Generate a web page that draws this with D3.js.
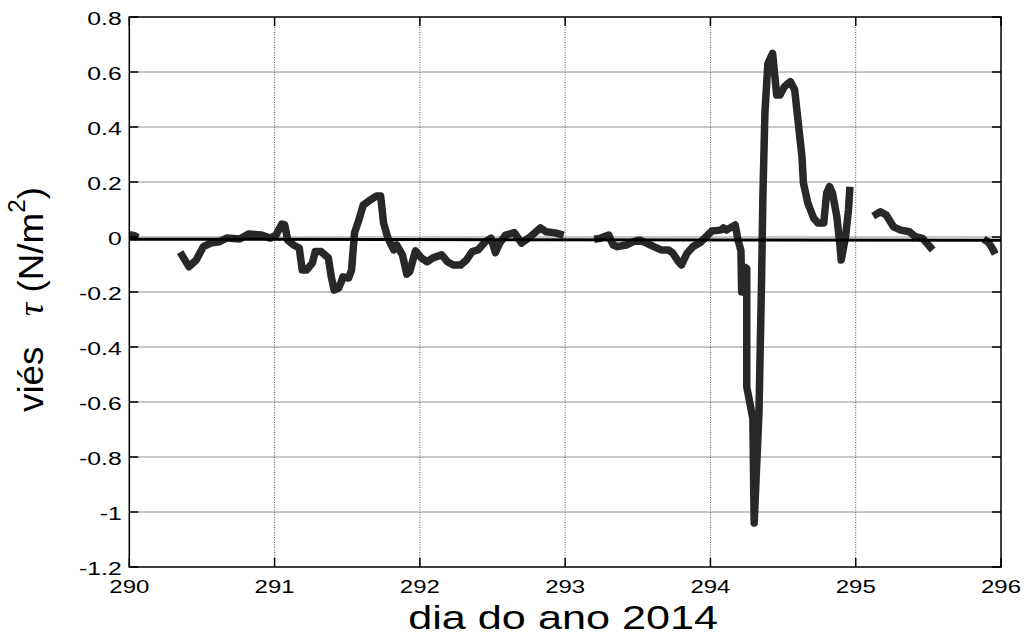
<!DOCTYPE html>
<html>
<head>
<meta charset="utf-8">
<script src="https://cdn.jsdelivr.net/npm/d3@7"></script>
<style>
  body { margin: 0; background: #fff; }
  svg { display: block; }
</style>
</head>
<body>
<svg id="chart" width="1026" height="637"></svg>
<script>
// Axis ticks and labels
const xTicks = [290, 291, 292, 293, 294, 295, 296];
const xTickLabels = ["290", "291", "292", "293", "294", "295", "296"];
const yTicks = [0.8, 0.6, 0.4, 0.2, 0, -0.2, -0.4, -0.6, -0.8, -1, -1.2];
const yTickLabels = ["0.8", "0.6", "0.4", "0.2", "0", "-0.2", "-0.4", "-0.6", "-0.8", "-1", "-1.2"];

// Wind stress bias time series (day of year 2014, N/m^2); null marks data gaps
const days = [
  290.00, 290.03, 290.06, 290.20,
  290.35, 290.41, 290.46, 290.51, 290.56, 290.62, 290.67, 290.76, 290.82, 290.91,
  290.97, 291.01, 291.05, 291.07, 291.09, 291.13, 291.17, 291.19, 291.22, 291.26,
  291.28, 291.32, 291.37, 291.39, 291.41, 291.44, 291.46, 291.47, 291.51, 291.53,
  291.55, 291.58, 291.61, 291.66, 291.70, 291.73, 291.75, 291.78, 291.82, 291.84,
  291.88, 291.91, 291.93, 291.97, 292.01, 292.05, 292.09, 292.15, 292.19, 292.23,
  292.28, 292.32, 292.36, 292.40, 292.45, 292.49, 292.52, 292.55, 292.59, 292.65,
  292.70, 292.76, 292.83, 292.87, 292.93, 292.99, 293.10,
  293.20, 293.24, 293.30, 293.33, 293.36, 293.42, 293.47, 293.51, 293.56, 293.61,
  293.66, 293.71, 293.74, 293.78, 293.80, 293.84, 293.88, 293.93, 293.97, 294.01,
  294.07, 294.09, 294.11, 294.17, 294.19, 294.21, 294.215, 294.237, 294.25, 294.25,
  294.292, 294.301, 294.334, 294.352, 294.361, 294.375, 294.395, 294.428, 294.456, 294.478,
  294.51, 294.55, 294.58, 294.60, 294.63, 294.64, 294.67, 294.71, 294.74, 294.78,
  294.80, 294.82, 294.84, 294.87, 294.89, 294.90, 294.93, 294.95, 294.96, 295.05,
  295.12, 295.17, 295.21, 295.26, 295.31, 295.37, 295.41, 295.46, 295.49, 295.53, 295.70,
  295.88, 295.91, 295.94, 295.96
];
const bias = [
  0.008, 0.006, -0.002, null,
  -0.055, -0.108, -0.084, -0.035, -0.022, -0.017, -0.004, -0.007, 0.011, 0.007,
  -0.004, 0.007, 0.047, 0.044, -0.011, -0.029, -0.040, -0.120, -0.120, -0.095,
  -0.053, -0.053, -0.076, -0.144, -0.193, -0.186, -0.162, -0.145, -0.149, -0.120,
  0.015, 0.062, 0.116, 0.135, 0.149, 0.149, 0.051, -0.004, -0.047, -0.029,
  -0.065, -0.135, -0.126, -0.050, -0.076, -0.090, -0.076, -0.065, -0.090, -0.102,
  -0.102, -0.084, -0.053, -0.047, -0.017, -0.004, -0.057, -0.022, 0.007, 0.016,
  -0.022, 0.001, 0.033, 0.019, 0.015, 0.007, null,
  -0.008, -0.005, 0.007, -0.029, -0.035, -0.029, -0.017, -0.011, -0.022, -0.035,
  -0.047, -0.047, -0.058, -0.090, -0.102, -0.058, -0.035, -0.020, 0.001, 0.022,
  0.025, 0.033, 0.025, 0.044, -0.011, -0.050, -0.200, -0.110, -0.115, -0.545,
  -0.660, -1.040, -0.640, -0.156, 0.147, 0.450, 0.630, 0.668, 0.516, 0.516,
  0.547, 0.565, 0.535, 0.437, 0.292, 0.196, 0.124, 0.069, 0.051, 0.051,
  0.160, 0.183, 0.160, 0.074, -0.022, -0.084, 0.001, 0.098, 0.183, null,
  0.076, 0.092, 0.080, 0.037, 0.025, 0.019, 0.001, -0.005, -0.023, -0.047, null,
  -0.008, -0.017, -0.041, -0.062
];

// Mean bias reference line
const meanDays = [290, 296];
const meanBias = [-0.008, -0.012];

const W = 1026, H = 637;
const margin = { left: 129.3, right: 25, top: 17, bottom: 70 };
const plotW = W - margin.left - margin.right;
const plotH = H - margin.top - margin.bottom;

const svg = d3.select("#chart");
const sans = "'Liberation Sans', Arial, sans-serif";

const x = d3.scaleLinear().domain([290, 296]).range([margin.left, margin.left + plotW]);
const y = d3.scaleLinear().domain([-1.2, 0.8]).range([margin.top + plotH, margin.top]);

// Grid lines
const grid = svg.append("g");
grid.selectAll("line.h").data(yTicks.slice(1, -1)).join("line")
  .attr("x1", x(290)).attr("x2", x(296))
  .attr("y1", d => y(d)).attr("y2", d => y(d))
  .attr("stroke", "#b4b4b4").attr("stroke-width", 1.3);
grid.selectAll("line.v").data(xTicks.slice(1, -1)).join("line")
  .attr("x1", d => x(d)).attr("x2", d => x(d))
  .attr("y1", y(0.8)).attr("y2", y(-1.2))
  .attr("stroke", "#555").attr("stroke-width", 1)
  .attr("stroke-dasharray", "1,1.5");

// Clip for data
svg.append("clipPath").attr("id", "plotClip").append("rect")
  .attr("x", margin.left).attr("y", margin.top).attr("width", plotW).attr("height", plotH);

const series = days.map((d, i) => ({ day: d, v: bias[i] }));
const line = d3.line()
  .defined(d => d.v !== null)
  .x(d => x(d.day)).y(d => y(d.v));

svg.append("path")
  .attr("clip-path", "url(#plotClip)")
  .attr("d", line(series))
  .attr("fill", "none")
  .attr("stroke", "#282828")
  .attr("stroke-width", 7.5)
  .attr("stroke-linejoin", "round")
  .attr("stroke-linecap", "butt");

const meanSeries = meanDays.map((d, i) => ({ day: d, v: meanBias[i] }));
svg.append("path")
  .attr("d", line(meanSeries))
  .attr("fill", "none")
  .attr("stroke", "#000")
  .attr("stroke-width", 3);

// Axes box and inward ticks on all sides
const tickLen = 9;
const axes = svg.append("g").attr("stroke", "#000").attr("stroke-width", 1.5);
axes.append("rect")
  .attr("x", x(290)).attr("y", y(0.8))
  .attr("width", x(296) - x(290)).attr("height", y(-1.2) - y(0.8))
  .attr("fill", "none");
xTicks.forEach(t => {
  axes.append("line").attr("x1", x(t)).attr("x2", x(t)).attr("y1", y(-1.2)).attr("y2", y(-1.2) - tickLen);
  axes.append("line").attr("x1", x(t)).attr("x2", x(t)).attr("y1", y(0.8)).attr("y2", y(0.8) + tickLen);
});
yTicks.forEach(t => {
  axes.append("line").attr("x1", x(290)).attr("x2", x(290) + tickLen).attr("y1", y(t)).attr("y2", y(t));
  axes.append("line").attr("x1", x(296)).attr("x2", x(296) - tickLen).attr("y1", y(t)).attr("y2", y(t));
});

// Tick labels
svg.append("g").selectAll("text").data(yTicks).join("text")
  .attr("transform", d => `translate(${x(290) - 7.6},${y(d) + 8}) scale(1.33,1)`)
  .attr("text-anchor", "end")
  .attr("font-family", sans).attr("font-size", 18.6).attr("fill", "#000")
  .text((d, i) => yTickLabels[i]);

svg.append("g").selectAll("text").data(xTicks).join("text")
  .attr("transform", d => `translate(${x(d)},${593}) scale(1.29,1)`)
  .attr("text-anchor", "middle")
  .attr("font-family", sans).attr("font-size", 18.6).attr("fill", "#000")
  .text((d, i) => xTickLabels[i]);

// X axis title
const xTitle = svg.append("text")
  .attr("text-anchor", "middle")
  .attr("font-family", sans).attr("font-size", 34).attr("fill", "#000")
  .text("dia do ano 2014");
const xLen = xTitle.node().getComputedTextLength();
xTitle.attr("transform", `translate(${(x(290) + x(296)) / 2 - 2},629) scale(${310 / xLen},1)`);

// Y axis title
const yTitle = svg.append("text")
  .attr("font-family", sans).attr("font-size", 35).attr("fill", "#000");
yTitle.append("tspan").text("viés\u00a0\u00a0\u00a0");
yTitle.append("tspan")
  .attr("font-family", "'Liberation Serif', 'DejaVu Serif', serif")
  .attr("font-style", "italic").text("τ");
yTitle.append("tspan").text("\u00a0(N/m");
yTitle.append("tspan").attr("font-size", 23).attr("dy", -18).text("2");
yTitle.append("tspan").attr("dy", 18).text(")");
const yLen = yTitle.node().getComputedTextLength();
yTitle.attr("transform", `translate(43,412) rotate(-90) scale(${225 / yLen},1)`);
</script>
</body>
</html>
